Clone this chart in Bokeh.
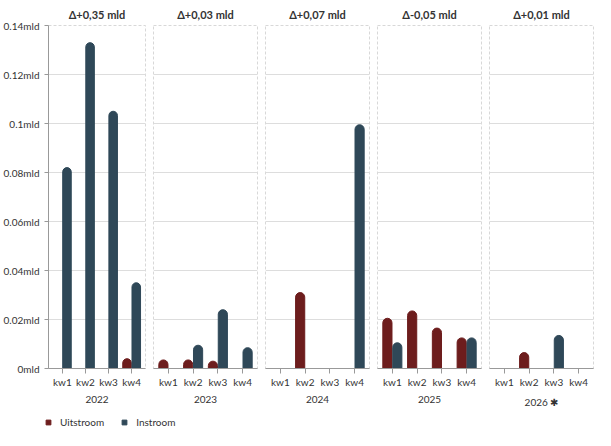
from bokeh.plotting import figure
from bokeh.layouts import row, column
from bokeh.models import FixedTicker, CustomJSTickFormatter, Legend, LegendItem, Range1d
from bokeh.embed import file_html
from bokeh.resources import INLINE

years = ["2022", "2023", "2024", "2025", "2026 ✱"]
titles = ["Δ+0,35 mld", "Δ+0,03 mld", "Δ+0,07 mld", "Δ-0,05 mld", "Δ+0,01 mld"]
quarters = ["kw1", "kw2", "kw3", "kw4"]
uitstroom = [
    [0, 0, 0, 0.004],
    [0.0035, 0.0035, 0.003, 0],
    [0, 0.031, 0, 0],
    [0.0205, 0.0235, 0.0165, 0.0125],
    [0, 0.0065, 0, 0],
]
instroom = [
    [0.082, 0.133, 0.105, 0.035],
    [0, 0.0095, 0.024, 0.0085],
    [0, 0, 0, 0.0995],
    [0.0105, 0, 0, 0.0125],
    [0, 0, 0.0135, 0],
]
y_ticks = [0, 0.02, 0.04, 0.06, 0.08, 0.1, 0.12, 0.14]
RED = "#6d1d1d"
BLUE = "#2f4858"
FONT = "Lato"

figs = []
for i in range(5):
    first = i == 0
    p = figure(width=149 if first else 112, height=410, output_backend="svg",
               toolbar_location=None, x_range=Range1d(0.4, 4.6), y_range=Range1d(0, 0.14),
               min_border_left=41 if first else 4, min_border_right=4,
               min_border_top=17, min_border_bottom=0, title=titles[i])
    p.title.align = "center"
    p.title.text_font = FONT
    p.title.text_font_size = "11px"
    p.title.text_font_style = "bold"
    p.title.text_color = "#333333"
    p.outline_line_color = "#d8d8d8"
    p.outline_line_dash = "3 2"
    xs = [1, 2, 3, 4]
    u_x = [x - 0.2 for x, v in zip(xs, uitstroom[i]) if v > 0]
    u_v = [v for v in uitstroom[i] if v > 0]
    n_x = [x + 0.2 for x, v in zip(xs, instroom[i]) if v > 0]
    n_v = [v for v in instroom[i] if v > 0]
    p.vbar(x=u_x, top=u_v, width=0.37, color=RED, border_radius=(5, 5, 0, 0))
    p.vbar(x=n_x, top=n_v, width=0.37, color=BLUE, border_radius=(5, 5, 0, 0))
    p.xaxis.ticker = FixedTicker(ticks=xs)
    p.xaxis.major_label_overrides = {j + 1: q for j, q in enumerate(quarters)}
    p.xaxis.axis_label = years[i]
    p.xaxis.minor_tick_line_color = None
    p.xaxis.major_tick_in = 0
    p.xaxis.major_tick_out = 5
    p.xaxis.major_label_standoff = 2
    p.xaxis.axis_line_color = "#999999"
    p.xaxis.major_tick_line_color = "#999999"
    p.xaxis.major_label_text_font = FONT
    p.xaxis.major_label_text_font_size = "10px"
    p.xaxis.major_label_text_color = "#333333"
    p.xaxis.axis_label_text_font = FONT
    p.xaxis.axis_label_text_font_size = "10px"
    p.xaxis.axis_label_text_font_style = "normal"
    p.xaxis.axis_label_text_color = "#333333"
    p.xaxis.axis_label_standoff = 5
    p.xgrid.grid_line_color = None
    p.ygrid.ticker = FixedTicker(ticks=y_ticks)
    p.ygrid.grid_line_color = "#dddddd"
    p.yaxis.ticker = FixedTicker(ticks=y_ticks)
    if first:
        p.yaxis.formatter = CustomJSTickFormatter(code="return parseFloat(tick.toFixed(2)) + 'mld';")
        p.yaxis.minor_tick_line_color = None
        p.yaxis.major_tick_in = 0
        p.yaxis.major_tick_out = 4
        p.yaxis.axis_line_color = "#999999"
        p.yaxis.major_tick_line_color = "#999999"
        p.yaxis.major_label_text_font = FONT
        p.yaxis.major_label_text_font_size = "10px"
        p.yaxis.major_label_text_color = "#333333"
    else:
        p.yaxis.visible = False
    figs.append(p)

lg = figure(width=220, height=20, output_backend="svg", toolbar_location=None,
            min_border=0, x_range=Range1d(0, 1), y_range=Range1d(0, 1))
lg.axis.visible = False
lg.grid.visible = False
lg.outline_line_color = None
r1 = lg.scatter(x=[-10], y=[-10], marker="square", size=11, color=RED)
r2 = lg.scatter(x=[-10], y=[-10], marker="square", size=11, color=BLUE)
leg = Legend(items=[LegendItem(label="Uitstroom", renderers=[r1]),
                    LegendItem(label="Instroom", renderers=[r2])],
             orientation="horizontal", border_line_color=None,
             background_fill_alpha=0, label_text_font=FONT, label_text_font_size="10px",
             label_text_color="#333333", glyph_width=12, glyph_height=12,
             padding=0, margin=0, spacing=14, label_standoff=6)
leg.location = (42, 2)
lg.add_layout(leg)

layout = column(row(*figs, spacing=0), lg, spacing=0)
open("out.html", "w").write(file_html(layout, INLINE))
